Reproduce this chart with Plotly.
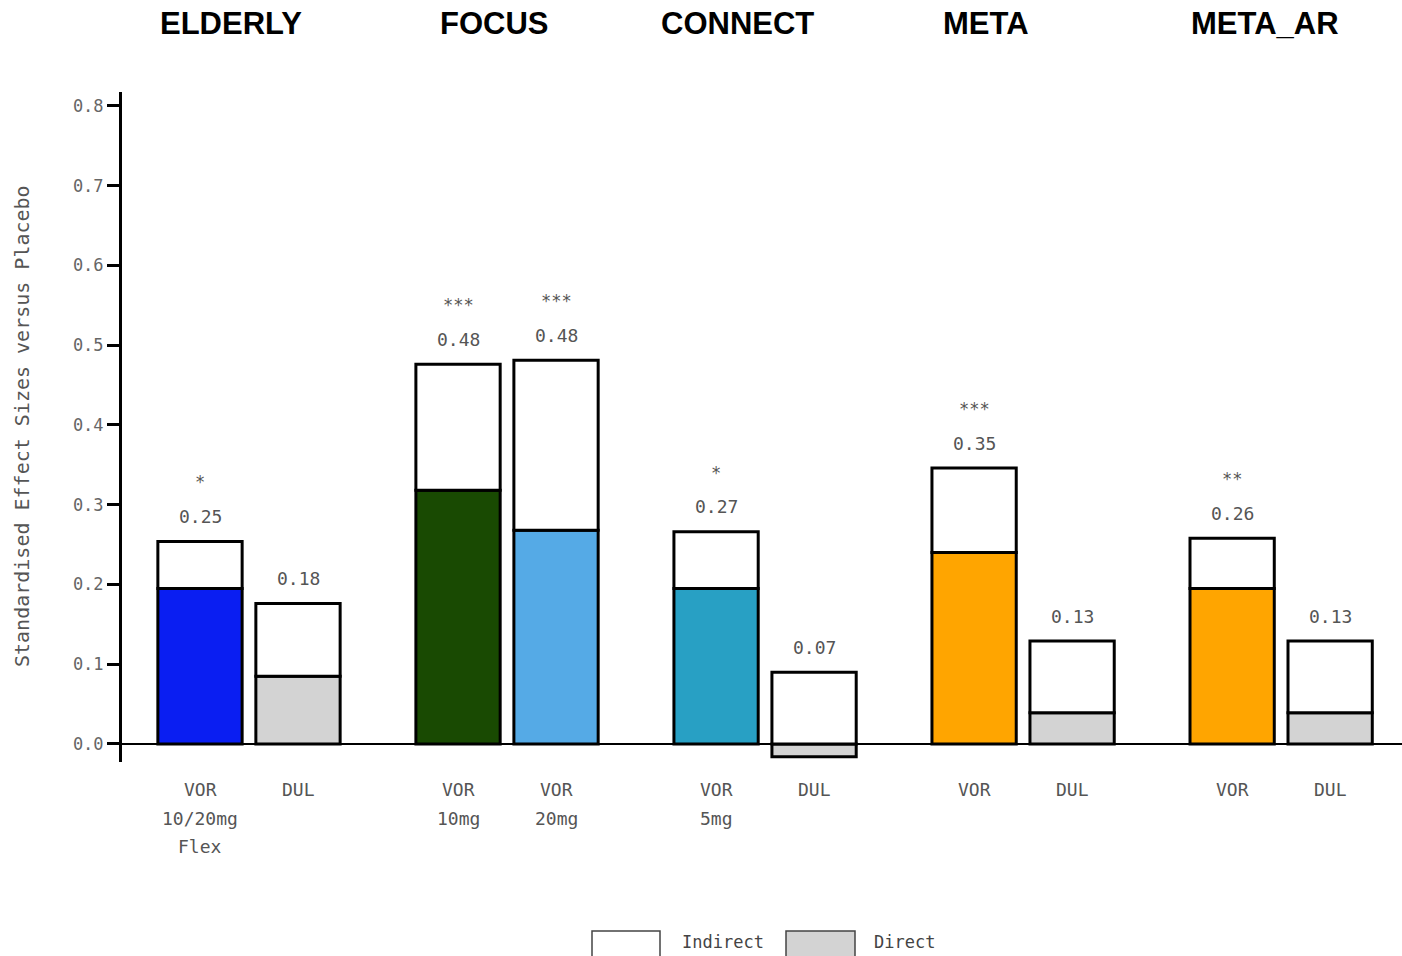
import plotly.graph_objects as go

# ---- data -------------------------------------------------------------
studies = ["ELDERLY", "FOCUS", "CONNECT", "META", "META_AR"]
bar_labels = [
    ["VOR", "10/20mg", "Flex"], ["DUL"],
    ["VOR", "10mg"], ["VOR", "20mg"],
    ["VOR", "5mg"], ["DUL"],
    ["VOR"], ["DUL"],
    ["VOR"], ["DUL"],
]
direct = [0.195, 0.085, 0.318, 0.268, 0.195, -0.016, 0.240, 0.039, 0.195, 0.039]
indirect = [0.059, 0.091, 0.158, 0.213, 0.071, 0.090, 0.106, 0.090, 0.063, 0.090]
significance = ["*", "", "***", "***", "*", "", "***", "", "**", ""]
direct_colors = ["#0a1ef2", "#d3d3d3", "#194a02", "#55aae6", "#28a0c4",
                 "#d3d3d3", "#ffa500", "#d3d3d3", "#ffa500", "#d3d3d3"]

# ---- layout helpers ---------------------------------------------------
W, H = 1402, 956
L, R, T, B = 122, 0, 92, 194
GROUP_STEP = 2.633          # distance between study groups (in bar pitches)
BARS_PER_GROUP = 2
x_pos = [(i // BARS_PER_GROUP) * GROUP_STEP + (i % BARS_PER_GROUP)
         for i in range(len(direct))]
MONO = "DejaVu Sans Mono"
TXT_GREY = "#555555"


def px_x(p):
    return (p - L) / (W - L - R)


def px_y(p):
    return (H - B - p) / (H - T - B)


fig = go.Figure()
fig.add_trace(go.Bar(
    x=x_pos, y=direct, name="Direct", width=0.86,
    marker=dict(color=direct_colors, line=dict(color="black", width=3)),
    hoverinfo="skip",
))
fig.add_trace(go.Bar(
    x=x_pos, y=indirect, name="Indirect", width=0.86,
    marker=dict(color="white", line=dict(color="black", width=3)),
    hoverinfo="skip",
))

annotations = []
for i, xp in enumerate(x_pos):
    total = direct[i] + indirect[i]
    top = max(direct[i], 0) + indirect[i]
    annotations.append(dict(x=xp, y=top, xref="x", yref="y", text=f"{total:.2f}",
                            showarrow=False, yanchor="middle", yshift=25,
                            font=dict(family=MONO, size=18, color=TXT_GREY)))
    if significance[i]:
        annotations.append(dict(x=xp, y=top, xref="x", yref="y", text=significance[i],
                                showarrow=False, yanchor="middle", yshift=59,
                                font=dict(family=MONO, size=17, color=TXT_GREY)))
    for k, line in enumerate(bar_labels[i]):
        annotations.append(dict(x=xp, y=0, xref="x", yref="y", text=line,
                                showarrow=False, yanchor="middle", yshift=-46 - 28.5 * k,
                                font=dict(family=MONO, size=18, color=TXT_GREY)))

# study titles along the top
title_px = [231, 494, 737, 986, 1265]
for name, px in zip(studies, title_px):
    annotations.append(dict(x=px_x(px), y=px_y(23), xref="paper", yref="paper",
                            text=f"<b>{name}</b>",
                            showarrow=False, xanchor="center", yanchor="middle",
                            font=dict(family="Liberation Sans, Arial", size=31, color="black")))

# y-axis title
annotations.append(dict(x=px_x(22), y=px_y(426), xref="paper", yref="paper",
                        text="Standardised Effect Sizes versus Placebo", textangle=-90,
                        showarrow=False, xanchor="center", yanchor="middle",
                        font=dict(family=MONO, size=20, color=TXT_GREY)))

# legend drawn beneath the chart
legend_items = [("Indirect", "white", 592, 660, 680), ("Direct", "#d3d3d3", 786, 855, 872)]
shapes = []
for label, color, x0, x1, tx in legend_items:
    shapes.append(dict(type="rect", xref="paper", yref="paper",
                       x0=px_x(x0), x1=px_x(x1), y0=px_y(958), y1=px_y(931),
                       fillcolor=color, line=dict(color="#444444", width=1.5)))
    annotations.append(dict(x=px_x(tx), y=px_y(942), xref="paper", yref="paper",
                            text=label, showarrow=False, xanchor="left", yanchor="middle",
                            font=dict(family=MONO, size=17, color="#444444")))

fig.update_layout(
    width=W, height=H,
    margin=dict(l=L, r=R, t=T, b=B, pad=0),
    barmode="relative",
    plot_bgcolor="white", paper_bgcolor="white",
    showlegend=False,
    annotations=annotations,
    shapes=shapes,
    xaxis=dict(range=[(L - 200) / 98, (W - R - 200) / 98], showline=False, showgrid=False,
               zeroline=False, showticklabels=False, ticks=""),
    yaxis=dict(range=[-0.0226, 0.8175], tickvals=[0, 0.1, 0.2, 0.3, 0.4, 0.5, 0.6, 0.7, 0.8],
               tickformat=".1f", showline=True, linecolor="black", linewidth=3,
               ticks="outside", ticklen=12, tickwidth=3, tickcolor="black",
               showgrid=False, zeroline=True, zerolinecolor="black", zerolinewidth=2,
               tickfont=dict(family=MONO, size=17, color="#666666")),
)

fig.write_html("out.html")
